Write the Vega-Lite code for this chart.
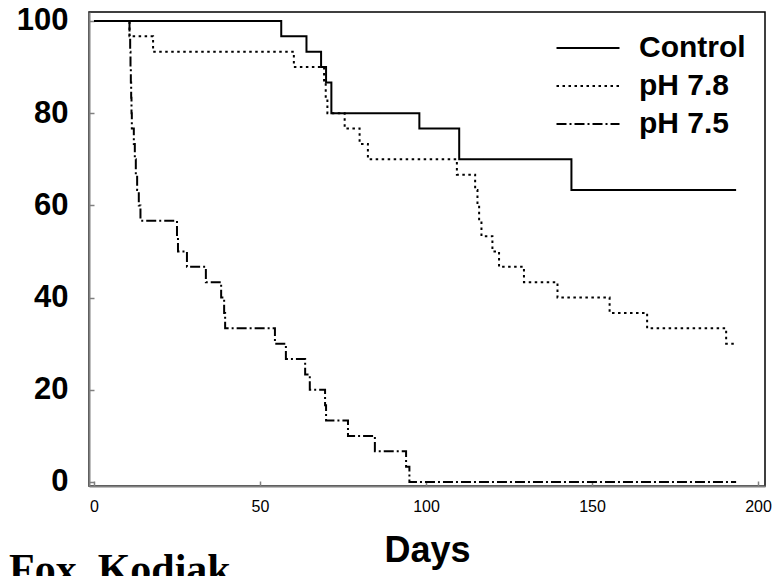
{
  "$schema": "https://vega.github.io/schema/vega-lite/v6.json",
  "width": 676,
  "height": 474,
  "padding": {"left": 9, "top": 4, "right": 0, "bottom": 0},
  "autosize": {"type": "pad"},
  "background": "white",
  "config": {"view": {"stroke": "black", "strokeWidth": 1.5}, "font": "Liberation Sans"},
  "title": {"text": "Fox, Kodiak", "orient": "bottom", "anchor": "start", "frame": "bounds", "font": "Liberation Serif", "fontSize": 42, "fontWeight": "bold", "color": "black", "offset": -18},
  "data": {"values": [
    {"group": "Control", "day": 0, "survival": 100},
    {"group": "Control", "day": 56.4, "survival": 96.67},
    {"group": "Control", "day": 64, "survival": 93.33},
    {"group": "Control", "day": 68.4, "survival": 90},
    {"group": "Control", "day": 69.9, "survival": 86.67},
    {"group": "Control", "day": 71.5, "survival": 80},
    {"group": "Control", "day": 98, "survival": 76.67},
    {"group": "Control", "day": 110, "survival": 70},
    {"group": "Control", "day": 143.8, "survival": 63.33},
    {"group": "Control", "day": 193.4, "survival": 63.33},
    {"group": "pH 7.8", "day": 0, "survival": 100},
    {"group": "pH 7.8", "day": 10.7, "survival": 96.67},
    {"group": "pH 7.8", "day": 17.8, "survival": 93.33},
    {"group": "pH 7.8", "day": 60.2, "survival": 90},
    {"group": "pH 7.8", "day": 69.3, "survival": 86.67},
    {"group": "pH 7.8", "day": 69.8, "survival": 83.33},
    {"group": "pH 7.8", "day": 70.3, "survival": 80},
    {"group": "pH 7.8", "day": 75.5, "survival": 76.67},
    {"group": "pH 7.8", "day": 80, "survival": 73.33},
    {"group": "pH 7.8", "day": 82.5, "survival": 70},
    {"group": "pH 7.8", "day": 109.3, "survival": 66.67},
    {"group": "pH 7.8", "day": 114.8, "survival": 63.33},
    {"group": "pH 7.8", "day": 115.5, "survival": 60},
    {"group": "pH 7.8", "day": 116, "survival": 56.67},
    {"group": "pH 7.8", "day": 116.7, "survival": 53.33},
    {"group": "pH 7.8", "day": 120, "survival": 50},
    {"group": "pH 7.8", "day": 122, "survival": 46.67},
    {"group": "pH 7.8", "day": 129.5, "survival": 43.33},
    {"group": "pH 7.8", "day": 139.6, "survival": 40},
    {"group": "pH 7.8", "day": 155.3, "survival": 36.67},
    {"group": "pH 7.8", "day": 166.6, "survival": 33.33},
    {"group": "pH 7.8", "day": 190.4, "survival": 30},
    {"group": "pH 7.8", "day": 193.4, "survival": 30},
    {"group": "pH 7.5", "day": 0, "survival": 100},
    {"group": "pH 7.5", "day": 10.7, "survival": 96.67},
    {"group": "pH 7.5", "day": 10.9, "survival": 93.33},
    {"group": "pH 7.5", "day": 11, "survival": 90},
    {"group": "pH 7.5", "day": 11.1, "survival": 86.67},
    {"group": "pH 7.5", "day": 11.2, "survival": 83.33},
    {"group": "pH 7.5", "day": 11.3, "survival": 80},
    {"group": "pH 7.5", "day": 11.4, "survival": 76.67},
    {"group": "pH 7.5", "day": 12, "survival": 73.33},
    {"group": "pH 7.5", "day": 12.3, "survival": 70},
    {"group": "pH 7.5", "day": 12.6, "survival": 66.67},
    {"group": "pH 7.5", "day": 13, "survival": 63.33},
    {"group": "pH 7.5", "day": 13.5, "survival": 60},
    {"group": "pH 7.5", "day": 14, "survival": 56.67},
    {"group": "pH 7.5", "day": 25, "survival": 53.33},
    {"group": "pH 7.5", "day": 25.3, "survival": 50},
    {"group": "pH 7.5", "day": 28, "survival": 46.67},
    {"group": "pH 7.5", "day": 33.7, "survival": 43.33},
    {"group": "pH 7.5", "day": 38.3, "survival": 40},
    {"group": "pH 7.5", "day": 39.2, "survival": 36.67},
    {"group": "pH 7.5", "day": 39.5, "survival": 33.33},
    {"group": "pH 7.5", "day": 54.5, "survival": 30},
    {"group": "pH 7.5", "day": 57.8, "survival": 26.67},
    {"group": "pH 7.5", "day": 63.6, "survival": 23.33},
    {"group": "pH 7.5", "day": 65, "survival": 20},
    {"group": "pH 7.5", "day": 69.6, "survival": 16.67},
    {"group": "pH 7.5", "day": 69.9, "survival": 13.33},
    {"group": "pH 7.5", "day": 76.5, "survival": 10},
    {"group": "pH 7.5", "day": 84.6, "survival": 6.67},
    {"group": "pH 7.5", "day": 94, "survival": 3.33},
    {"group": "pH 7.5", "day": 95, "survival": 0},
    {"group": "pH 7.5", "day": 193.4, "survival": 0}
  ]},
  "mark": {"type": "line", "interpolate": "step-after", "strokeWidth": 2, "color": "black", "clip": true},
  "encoding": {
    "x": {
      "field": "day", "type": "quantitative",
      "scale": {"domain": [-1.5, 202.1], "nice": false, "zero": false},
      "axis": {
        "values": [0, 50, 100, 150, 200], "grid": false,
        "tickSize": -5, "tickColor": "#808080", "tickWidth": 1.5,
        "domainColor": "#808080", "domainWidth": 2,
        "labelFont": "Liberation Sans", "labelFontSize": 16, "labelColor": "black",
        "labelPadding": 17, "labelFlush": false, "labelOverlap": false,
        "title": "Days", "titleFont": "Liberation Sans", "titleFontSize": 36, "titleFontWeight": "bold", "titleColor": "black", "titlePadding": 19
      }
    },
    "y": {
      "field": "survival", "type": "quantitative",
      "scale": {"domain": [-0.87, 101.95], "nice": false, "zero": false},
      "axis": {
        "values": [0, 20, 40, 60, 80, 100], "grid": false,
        "tickSize": -5, "tickColor": "#808080", "tickWidth": 1.5,
        "domainColor": "#808080", "domainWidth": 2,
        "labelFont": "Liberation Sans", "labelFontSize": 31, "labelFontWeight": "bold", "labelColor": "black",
        "labelPadding": 26, "title": null, "minExtent": 80, "maxExtent": 80
      }
    },
    "strokeDash": {
      "field": "group", "type": "nominal",
      "scale": {"domain": ["Control", "pH 7.8", "pH 7.5"], "range": [[1, 0], [2.5, 3.5], [10, 3, 2, 3]]},
      "legend": {
        "orient": "none", "legendX": 484, "legendY": 21, "title": null,
        "symbolType": "M-4,0H4", "symbolSize": 248, "symbolStrokeColor": "black", "symbolStrokeWidth": 2,
        "labelFont": "Liberation Sans", "labelFontSize": 30, "labelFontWeight": "bold", "labelColor": "black",
        "labelOffset": 36, "rowPadding": 8, "labelLimit": 300
      }
    }
  }
}
